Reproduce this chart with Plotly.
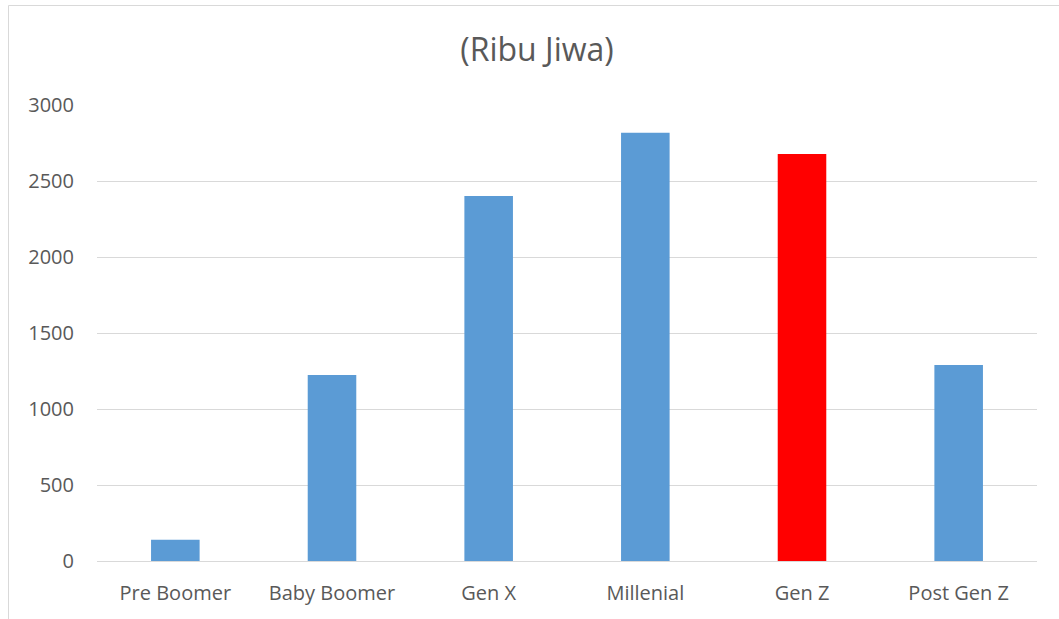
import plotly.graph_objects as go

categories = ["Pre Boomer", "Baby Boomer", "Gen X", "Millenial", "Gen Z", "Post Gen Z"]
values = [140, 1224, 2401, 2818, 2678, 1289]
colors = ["#5B9BD5", "#5B9BD5", "#5B9BD5", "#5B9BD5", "#FF0000", "#5B9BD5"]
y_ticks = [0, 500, 1000, 1500, 2000, 2500, 3000]
title_text = "(Ribu Jiwa)"

W, H = 1059, 619
L, R, T, B = 97, 22, 105, 58
pw = W - L - R
ph = H - T - B

fig = go.Figure(go.Bar(
    x=categories, y=values, marker=dict(color=colors, line=dict(width=0)),
    width=0.31,
))

fig.update_layout(
    width=W, height=H,
    margin=dict(l=L, r=R, t=T, b=B, pad=0),
    paper_bgcolor="white", plot_bgcolor="white",
    font=dict(family="Open Sans", color="#595959", size=20),
    showlegend=False,
    title=dict(text=title_text, x=537 / W, xanchor="center", xref="container",
               y=1 - 50 / H, yanchor="middle", yref="container",
               font=dict(family="Open Sans", size=32, color="#595959")),
    xaxis=dict(showgrid=False, showline=False, ticks="", tickfont=dict(size=20),
               ticklabelstandoff=18),
    yaxis=dict(range=[0, 3000], tickvals=y_ticks, showgrid=True, gridcolor="#D9D9D9",
               gridwidth=1, zeroline=True, zerolinecolor="#D9D9D9", zerolinewidth=1,
               showline=False, ticks="", tickfont=dict(size=20), ticklabelstandoff=22),
    shapes=[dict(type="rect", xref="paper", yref="paper",
                 x0=(8.5 - L) / pw, x1=(W + 10 - L) / pw,
                 y0=(H - T - (H + 10)) / ph, y1=(H - B - 5.5) / ph,
                 line=dict(color="#D9D9D9", width=1), fillcolor="rgba(0,0,0,0)", layer="below")],
)

fig.write_html("out.html")
